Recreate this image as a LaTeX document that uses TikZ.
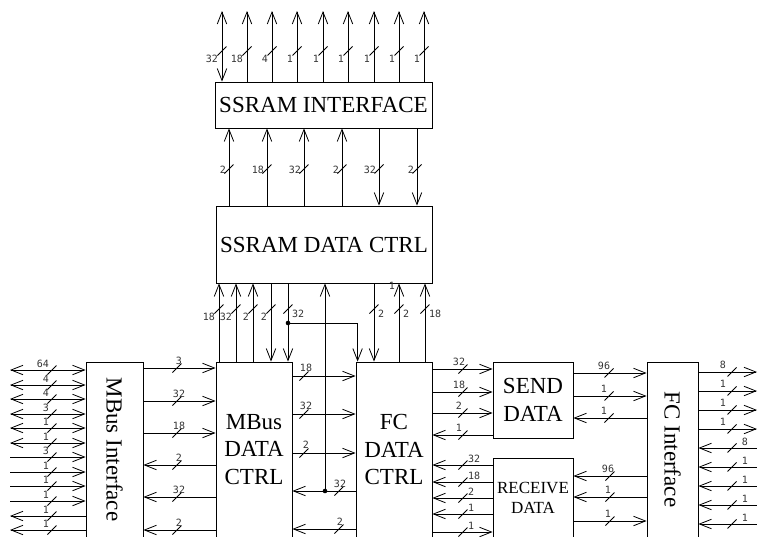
\documentclass[tikz,border=0pt]{standalone}
\usepackage{fontspec}
\setmainfont{Liberation Serif}
\newfontfamily\busfont{DejaVu Sans Mono}
\usetikzlibrary{arrows.meta}

\begin{document}
\begin{tikzpicture}[x=1pt,y=-1pt,
    sig/.style={line width=0.8pt},
    >={Straight Barb[length=12pt,width=9.5pt]},
    blk/.style={draw,line width=0.8pt,inner sep=0pt,align=center,
      font=\fontsize{23}{27.5}\selectfont},
    lbl/.style={inner sep=0pt,text=black!80,
      font=\busfont\fontsize{10}{10}\selectfont},
    pics/tk/.style={code={\draw[sig] (-4.5,4.5) -- (4.5,-4.5);}}]
    \useasboundingbox (0,0) rectangle (758,536);
    \clip (0,0) rectangle (758,536);
    \node[blk,minimum width=217pt,minimum height=46pt] (ssi) at (323.5,105) {SSRAM INTERFACE};
    \node[blk,minimum width=216pt,minimum height=77pt] (ssc) at (324,244.5) {SSRAM DATA CTRL};
    \node[blk,minimum width=57pt,minimum height=175pt] (mbi) at (114.5,449.5) {\rotatebox{-90}{MBus Interface}};
    \node[blk,minimum width=76pt,minimum height=175pt] (mbc) at (254,449.5) {MBus\\DATA\\CTRL};
    \node[blk,minimum width=76pt,minimum height=175pt] (fcc) at (394,449.5) {FC\\DATA\\CTRL};
    \node[blk,minimum width=80pt,minimum height=76pt] (snd) at (533,400) {SEND\\DATA};
    \node[blk,minimum width=80pt,minimum height=79pt,
      font=\fontsize{17}{20}\selectfont] (rcv) at (533,497.5) {RECEIVE\\DATA};
    \node[blk,minimum width=51pt,minimum height=175pt] (fci) at (672.5,449.5) {\rotatebox{-90}{FC Interface}};
    \coordinate (ltop) at (0,11);
    \coordinate (lend) at (10,0);
    \coordinate (rend) at (757,0);
    \coordinate (j1) at (288,323);
    \coordinate (j2) at (325,491);

    % SSRAM interface outputs
    \draw[sig,<->] (ssi.north -| 222,0) -- (ltop -| 222,0);
    \foreach \x in {247,272,297,323,348,374,399,424}
      \draw[sig,->] (ssi.north -| \x,0) -- (ltop -| \x,0);
    \foreach \x/\n in {222/32,247/18,272/4,297/1,323/1,348/1,374/1,399/1,424/1} {
      \pic at (\x,51) {tk};
      \node[lbl,anchor=north east] (ta\x) at (\x-4,55) {\n};
    }

    % SSRAM ctrl <-> SSRAM interface
    \foreach \x in {229,267,304,342}
      \draw[sig,->] (ssc.north -| \x,0) -- (ssi.south -| \x,0);
    \foreach \x in {379,417}
      \draw[sig,->] (ssi.south -| \x,0) -- (ssc.north -| \x,0);
    \foreach \x/\n in {229/2,267/18,304/32,342/2,379/32,417/2} {
      \pic at (\x,169) {tk};
      \node[lbl,anchor=east] (tb\x) at (\x-3,170) {\n};
    }

    % data ctrls <-> SSRAM ctrl
    \foreach \x in {219,236,253}
      \draw[sig,->] (mbc.north -| \x,0) -- (ssc.south -| \x,0);
    \foreach \x in {271,288}
      \draw[sig,->] (ssc.south -| \x,0) -- (mbc.north -| \x,0);
    \foreach \x in {399,425}
      \draw[sig,->] (fcc.north -| \x,0) -- (ssc.south -| \x,0);
    \draw[sig,->] (ssc.south -| 374,0) -- (fcc.north -| 374,0);
    \draw[sig,->] (j1) -| ([xshift=2pt]fcc.north west);
    \draw[sig,->] (j2) -- (ssc.south -| j2);
    \fill (j1) circle[radius=2.3pt] (j2) circle[radius=2.3pt];
    \foreach \x/\n in {219/18,236/32,253/2,271/2} {
      \pic at (\x,309) {tk};
      \node[lbl,anchor=north east] (tc\x) at (\x-4,313) {\n};
    }
    \foreach \x/\n in {288/32,374/2,399/2,425/18} {
      \pic at (\x,309) {tk};
      \node[lbl,anchor=west] (tc\x) at (\x+4,314) {\n};
    }
    \node[lbl] (one) at (392,286) {1};

    % MBus interface pins
    \foreach \y in {370,385,399,414,428,443}
      \draw[sig,<->] (lend |- 0,\y) -- (mbi.west |- 0,\y);
    \foreach \y in {457,472,486,501}
      \draw[sig,->] (lend |- 0,\y) -- (mbi.west |- 0,\y);
    \foreach \y in {516,530}
      \draw[sig,<-] (lend |- 0,\y) -- (mbi.west |- 0,\y);
    \foreach \y/\n in {370/64,385/4,399/4,414/3,428/1,443/1,457/3,472/1,486/1,501/1,516/1,530/1} {
      \pic at (52,\y) {tk};
      \node[lbl,anchor=east] (td\y) at (49,\y-6) {\n};
    }

    % MBus interface <-> MBus ctrl
    \foreach \y in {368,401,433}
      \draw[sig,->] (mbi.east |- 0,\y) -- (mbc.west |- 0,\y);
    \foreach \y in {465,497,530}
      \draw[sig,<-] (mbi.east |- 0,\y) -- (mbc.west |- 0,\y);
    \foreach \y/\n in {368/3,401/32,433/18,465/2,497/32,530/2} {
      \pic at (177,\y) {tk};
      \node[lbl,anchor=south] (te\y) at (179,\y-3.5) {\n};
    }

    % MBus ctrl <-> FC ctrl
    \foreach \y in {376,414,453}
      \draw[sig,->] (mbc.east |- 0,\y) -- (fcc.west |- 0,\y);
    \foreach \y in {491,529}
      \draw[sig,<-] (mbc.east |- 0,\y) -- (fcc.west |- 0,\y);
    \foreach \y/\n in {376/18,414/32,453/2} {
      \pic at (304,\y) {tk};
      \node[lbl,anchor=south] (tf\y) at (306,\y-4) {\n};
    }
    \foreach \y/\n in {491/32,529/2} {
      \pic at (339,\y) {tk};
      \node[lbl,anchor=south] (tf\y) at (340,\y-3) {\n};
    }

    % FC ctrl <-> send / receive
    \foreach \y in {369,392,413}
      \draw[sig,->] (fcc.east |- 0,\y) -- (snd.west |- 0,\y);
    \draw[sig,<-] (fcc.east |- 0,435) -- (snd.west |- 0,435);
    \foreach \y/\n in {369/32,392/18,413/2,435/1} {
      \pic at (463,\y) {tk};
      \node[lbl,anchor=south] (tg\y) at (459,\y-3) {\n};
    }
    \foreach \y in {465,482,498,514}
      \draw[sig,<-] (fcc.east |- 0,\y) -- (rcv.west |- 0,\y);
    \draw[sig,->] (fcc.east |- 0,532) -- (rcv.west |- 0,532);
    \foreach \y/\n in {465/32,482/18,498/2,514/1,532/1} {
      \pic at (463,\y) {tk};
      \node[lbl,anchor=west] (th\y) at (468,\y-6) {\n};
    }

    % send / receive <-> FC interface
    \foreach \y in {373,396}
      \draw[sig,->] (snd.east |- 0,\y) -- (fci.west |- 0,\y);
    \draw[sig,<-] (snd.east |- 0,418) -- (fci.west |- 0,418);
    \foreach \y/\n in {373/96,396/1,418/1} {
      \pic at (609,\y) {tk};
      \node[lbl,anchor=south] (ti\y) at (604,\y-3) {\n};
    }
    \foreach \y in {476,497}
      \draw[sig,<-] (rcv.east |- 0,\y) -- (fci.west |- 0,\y);
    \draw[sig,->] (rcv.east |- 0,521) -- (fci.west |- 0,521);
    \foreach \y/\n in {476/96,497/1,521/1} {
      \pic at (610,\y) {tk};
      \node[lbl,anchor=south] (tj\y) at (608,\y-3) {\n};
    }

    % FC interface pins
    \foreach \y in {372,391,410,429}
      \draw[sig,->] (fci.east |- 0,\y) -- (rend |- 0,\y);
    \foreach \y in {448,467,486,505,524}
      \draw[sig,<-] (fci.east |- 0,\y) -- (rend |- 0,\y);
    \foreach \y/\n in {372/8,391/1,410/1,429/1} {
      \pic at (732,\y) {tk};
      \node[lbl,anchor=south] (tk\y) at (723,\y-3) {\n};
    }
    \foreach \y/\n in {448/8,467/1,486/1,505/1,524/1} {
      \pic at (732,\y) {tk};
      \node[lbl,anchor=south] (tk\y) at (745,\y-2.5) {\n};
    }
\end{tikzpicture}
\end{document}
